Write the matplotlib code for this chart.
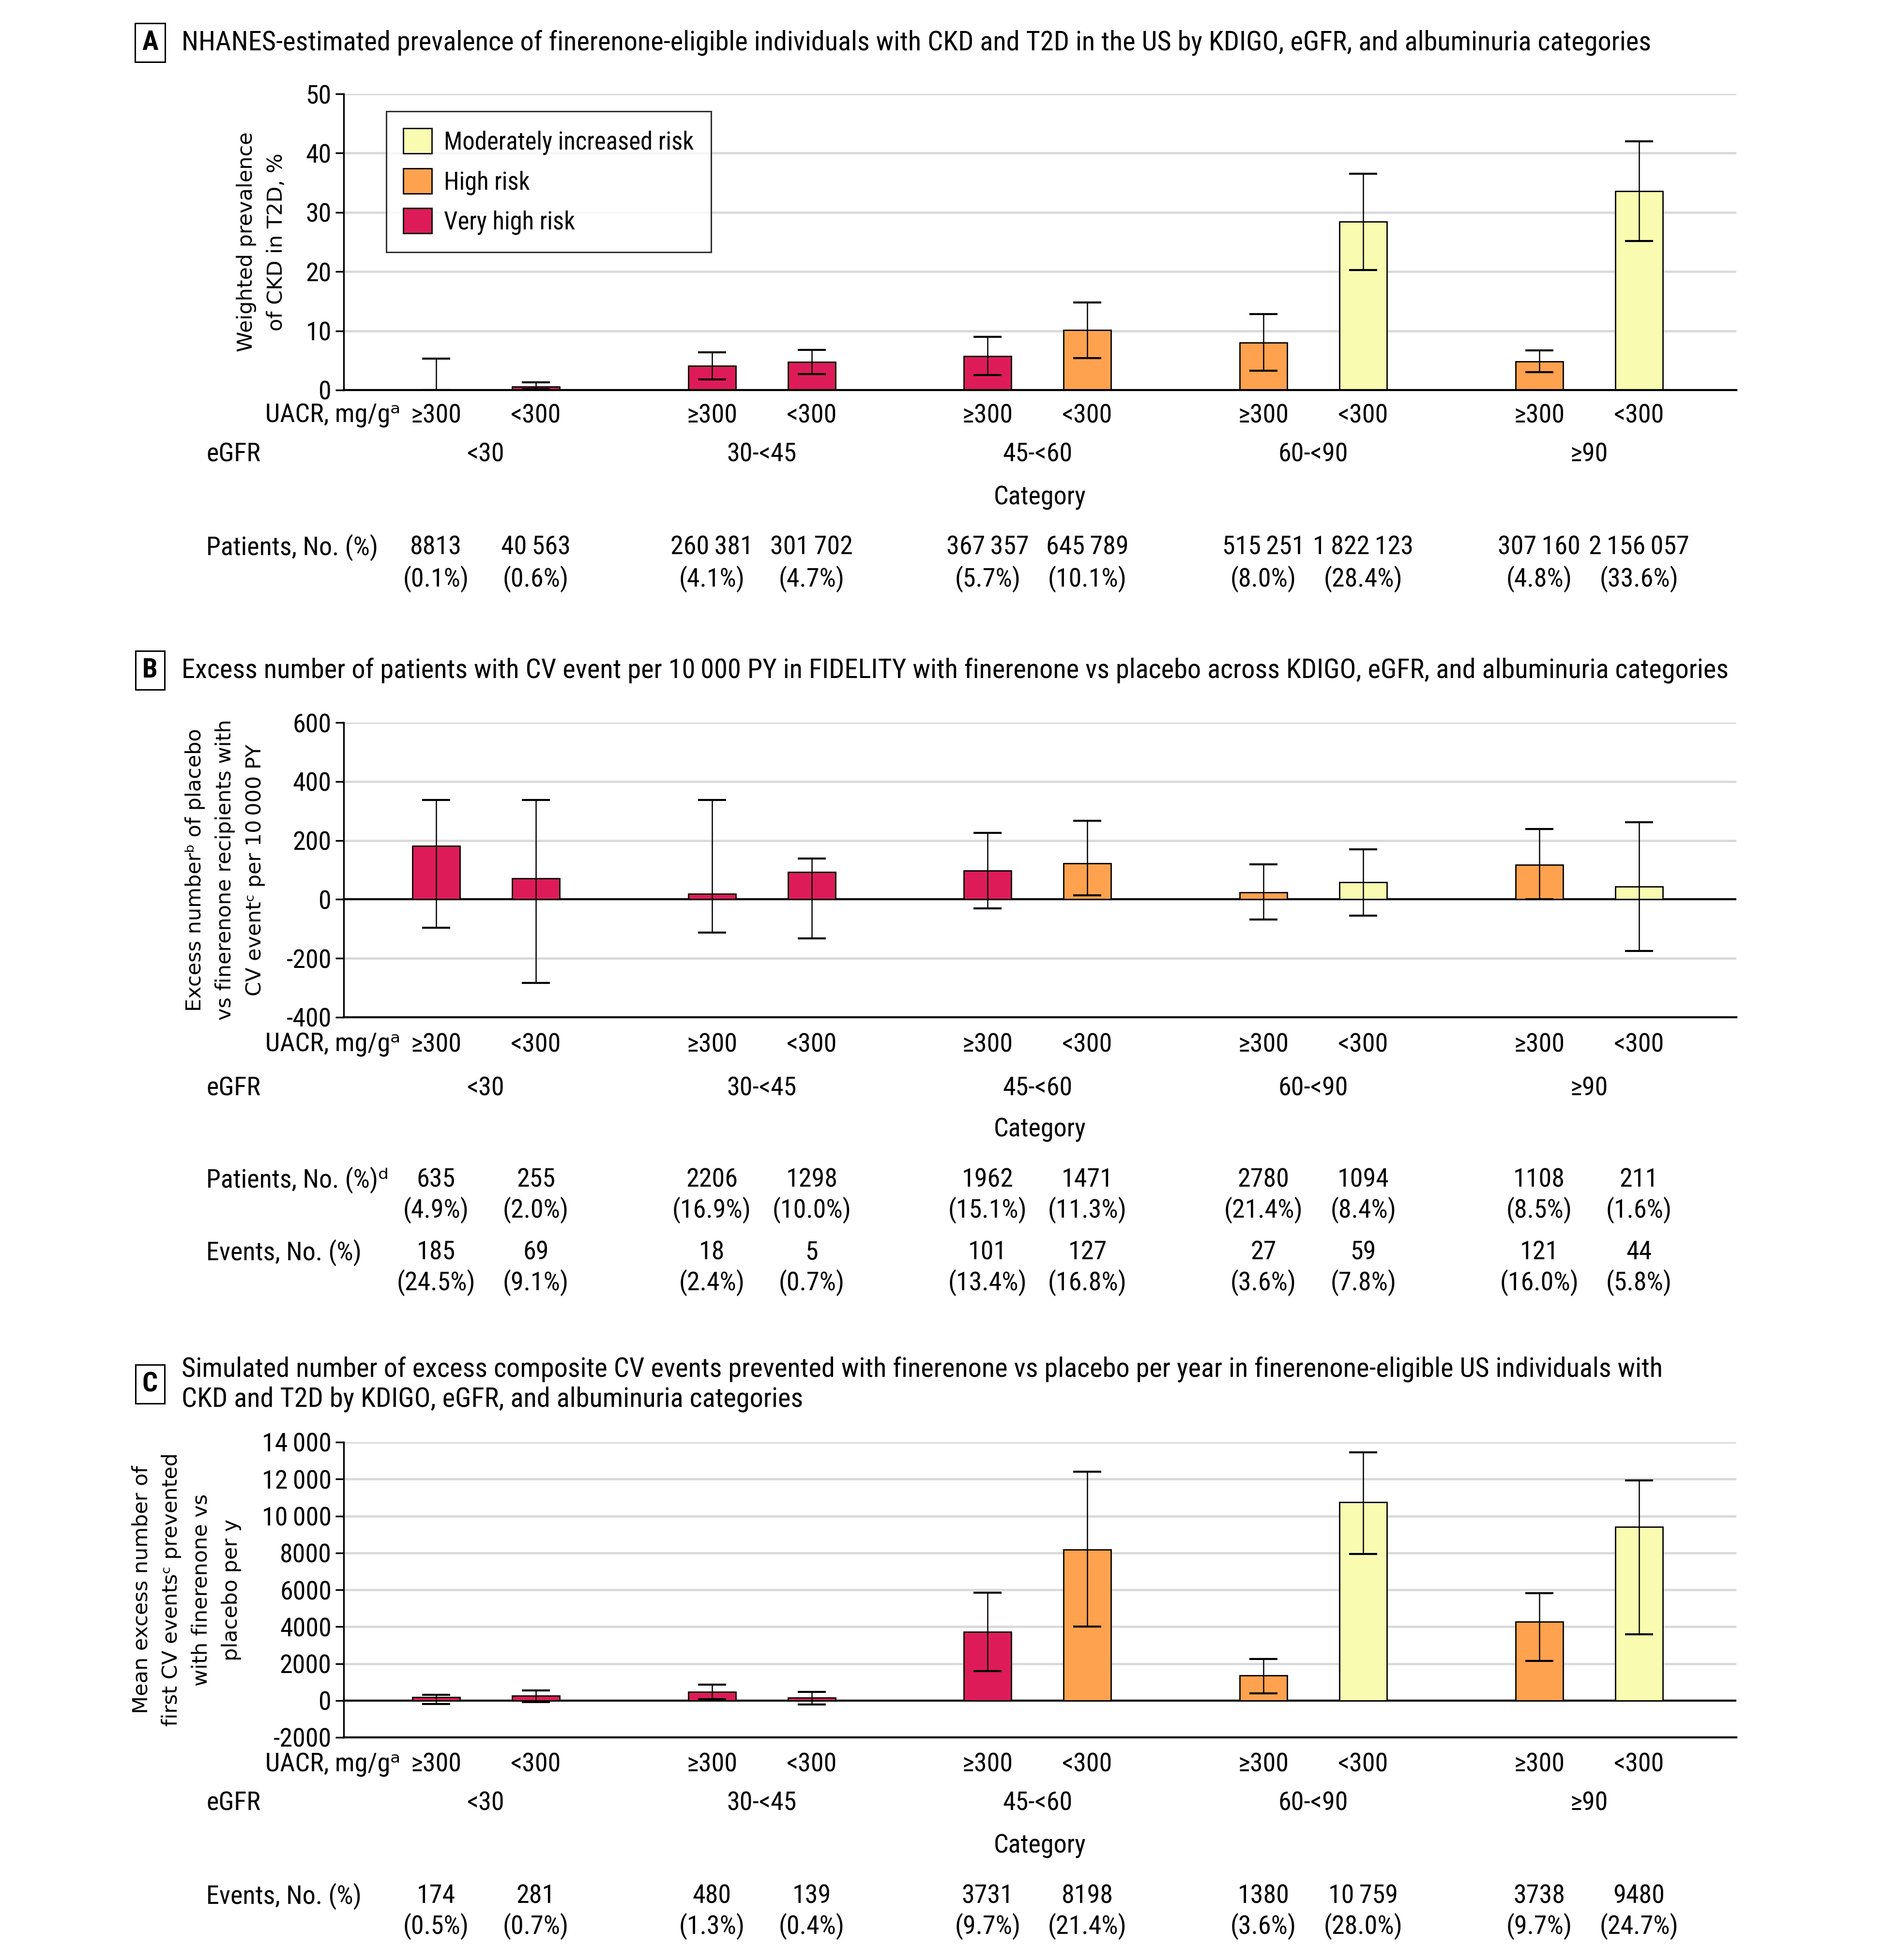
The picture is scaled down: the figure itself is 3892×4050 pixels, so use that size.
import matplotlib
matplotlib.use("Agg")
import matplotlib.pyplot as plt
import matplotlib.transforms as mtransforms
from matplotlib import font_manager
from matplotlib.patches import Patch
import numpy as np

# ---------------- data ----------------
egfr_groups = ["<30", "30-<45", "45-<60", "60-<90", "\u226590"]
uacr_labels = ["\u2265300", "<300"]
risk_names = ["Moderately increased risk", "High risk", "Very high risk"]
bar_risk = ["V", "V", "V", "V", "V", "H", "H", "M", "H", "M"]

a_vals = [0.1, 0.6, 4.1, 4.7, 5.7, 10.1, 8.0, 28.4, 4.8, 33.6]
a_lo = [0.0, 0.2, 1.8, 2.7, 2.5, 5.4, 3.3, 20.3, 3.0, 25.2]
a_hi = [5.3, 1.3, 6.4, 6.8, 9.0, 14.8, 12.8, 36.5, 6.7, 42.0]
a_patients = ["8813", "40\u2009563", "260\u2009381", "301\u2009702", "367\u2009357",
              "645\u2009789", "515\u2009251", "1\u2009822\u2009123", "307\u2009160", "2\u2009156\u2009057"]
a_pct = ["0.1", "0.6", "4.1", "4.7", "5.7", "10.1", "8.0", "28.4", "4.8", "33.6"]

b_vals = [182, 72, 18, 93, 98, 122, 24, 58, 118, 43]
b_lo = [-97, -283, -112, -133, -30, 14, -68, -55, 0, -175]
b_hi = [338, 338, 338, 138, 225, 267, 119, 170, 238, 261]
b_patients = ["635", "255", "2206", "1298", "1962", "1471", "2780", "1094", "1108", "211"]
b_pat_pct = ["4.9", "2.0", "16.9", "10.0", "15.1", "11.3", "21.4", "8.4", "8.5", "1.6"]
b_events = ["185", "69", "18", "5", "101", "127", "27", "59", "121", "44"]
b_ev_pct = ["24.5", "9.1", "2.4", "0.7", "13.4", "16.8", "3.6", "7.8", "16.0", "5.8"]

c_vals = [167, 267, 466, 141, 3725, 8176, 1354, 10742, 4270, 9400]
c_lo = [-183, -83, 70, -217, 1581, 3996, 400, 7937, 2145, 3588]
c_hi = [317, 533, 855, 476, 5836, 12388, 2242, 13450, 5815, 11922]
c_events = ["174", "281", "480", "139", "3731", "8198", "1380", "10\u2009759", "3738", "9480"]
c_ev_pct = ["0.5", "0.7", "1.3", "0.4", "9.7", "21.4", "3.6", "28.0", "9.7", "24.7"]

a_yticks = [0, 10, 20, 30, 40, 50]
b_yticks = [-400, -200, 0, 200, 400, 600]
c_yticks = [-2000, 0, 2000, 4000, 6000, 8000, 10000, 12000, 14000]
c_yticklabels = ["-2000", "0", "2000", "4000", "6000", "8000", "10\u2009000", "12\u2009000", "14\u2009000"]

titles = [
    "NHANES-estimated prevalence of finerenone-eligible individuals with CKD and T2D in the US by KDIGO, eGFR, and albuminuria categories",
    "Excess number of patients with CV event per 10\u2009000 PY in FIDELITY with finerenone vs placebo across KDIGO, eGFR, and albuminuria categories",
    "Simulated number of excess composite CV events prevented with finerenone vs placebo per year in finerenone-eligible US individuals with\nCKD and T2D by KDIGO, eGFR, and albuminuria categories",
]
ylabels = [
    "Weighted prevalence\nof CKD in T2D, %",
    "Excess number\u1d47 of placebo\nvs finerenone recipients with\nCV event\u1d9c per 10\u2009000 PY",
    "Mean excess number of\nfirst CV events\u1d9c prevented\nwith finerenone vs\nplacebo per y",
]

# ---------------- style ----------------
colors = {"M": "#f9fbb1", "H": "#ffa24f", "V": "#de1b59"}
avail = {f.name for f in font_manager.fontManager.ttflist}
narrow = [f for f in ["Liberation Sans Narrow", "Roboto Condensed", "DejaVu Sans Condensed", "Roboto"] if f in avail]
NF = narrow + ["DejaVu Sans"]
WF = ["DejaVu Sans"]

W, H = 3892, 4050
DPI = 100
fig = plt.figure(figsize=(W / DPI, H / DPI), dpi=DPI)

def fx(x):
    return x / W

def fy(y):
    return 1 - y / H

FS = 39
TFS = 40.6
AX_L, AX_R = 710, 3587

# group positions
ng = len(egfr_groups)
gpos = np.arange(ng, dtype=float)
off = 0.181
xpos = np.ravel(np.column_stack([gpos - off, gpos + off]))
bw = 0.172
XL = (-0.516, 4.534)

def make_panel(top, bot, vals, lo, hi, ylim, yticks, yticklabels, ylabel, ylab_x, letter, title, title_y, rows, uacr_y, egfr_y, cat_y):
    ax = fig.add_axes([fx(AX_L), fy(bot), fx(AX_R) - fx(AX_L), (bot - top) / H])
    vals = np.array(vals, float)
    yerr = np.vstack([vals - np.array(lo, float), np.array(hi, float) - vals])
    ax.set_xlim(*XL)
    ax.set_ylim(*ylim)
    ax.set_yticks(yticks)
    ax.set_yticklabels(yticklabels, fontfamily=NF, fontsize=FS)
    ax.yaxis.grid(True, color="#d9d9d9", linewidth=3.4, zorder=0)
    ax.set_axisbelow(True)
    for s in ["top", "right"]:
        ax.spines[s].set_visible(False)
    ax.spines["left"].set_linewidth(2.5)
    ax.spines["bottom"].set_linewidth(3)
    ax.tick_params(axis="y", length=12, width=2.5, pad=6)
    ax.tick_params(axis="x", length=0)
    ax.set_xticks(xpos)
    ax.set_xticklabels([])
    ax.axhline(0, color="black", linewidth=3, zorder=1.5)
    bar_colors = [colors[r] for r in bar_risk]
    ax.bar(xpos, vals, width=bw, color=bar_colors, edgecolor="black", linewidth=2, zorder=2)
    ax.errorbar(xpos, vals, yerr=yerr, fmt="none", ecolor="black", elinewidth=1.8,
                capsize=21, capthick=3, zorder=3)
    # y label
    fig.text(fx(ylab_x), (fy(top) + fy(bot)) / 2, ylabel, rotation=90, ha="center", va="center",
             fontfamily=WF, fontsize=31, linespacing=1.6)
    # panel letter + title
    fig.text(fx(310), fy(title_y), letter, ha="center", va="center", fontfamily=NF, fontsize=TFS,
             fontweight="bold", bbox=dict(boxstyle="square,pad=0.25", fc="white", ec="black", lw=2.2))
    fig.text(fx(375), fy(title_y), title, ha="left", va="center", fontfamily=NF, fontsize=TFS,
             linespacing=1.2)
    trans = mtransforms.blended_transform_factory(ax.transData, fig.transFigure)
    # UACR row
    fig.text(fx(548), fy(uacr_y), "UACR, mg/g\u1d43", ha="left", va="center", fontfamily=NF, fontsize=FS)
    for i, x in enumerate(xpos):
        ax.text(x, fy(uacr_y), uacr_labels[i % 2], transform=trans, ha="center", va="center",
                fontfamily=NF, fontsize=FS)
    # eGFR row
    fig.text(fx(426), fy(egfr_y), "eGFR", ha="left", va="center", fontfamily=NF, fontsize=FS)
    for g, lab in zip(gpos, egfr_groups):
        ax.text(g, fy(egfr_y), lab, transform=trans, ha="center", va="center", fontfamily=NF, fontsize=FS)
    ax.text(np.mean(XL), fy(cat_y), "Category", transform=trans, ha="center", va="center",
            fontfamily=NF, fontsize=FS)
    for (label, y1, y2, nums, pcts) in rows:
        fig.text(fx(426), fy(y1), label, ha="left", va="center", fontfamily=NF, fontsize=FS)
        for x, n, p in zip(xpos, nums, pcts):
            ax.text(x, fy(y1), n, transform=trans, ha="center", va="center", fontfamily=NF, fontsize=FS)
            ax.text(x, fy(y2), "(" + p + "%)", transform=trans, ha="center", va="center",
                    fontfamily=NF, fontsize=FS)
    return ax

axA = make_panel(194, 806, a_vals, a_lo, a_hi, (0, 50), a_yticks, [str(t) for t in a_yticks],
                 ylabels[0], 540, "A", titles[0], 88,
                 [("Patients, No. (%)", 1131, 1196, a_patients, a_pct)], 859, 939, 1028)

# legend for panel A
handles = [Patch(facecolor=colors[k], edgecolor="black", linewidth=2) for k in ["M", "H", "V"]]
leg = axA.legend(handles, risk_names, loc="upper left",
                 bbox_to_anchor=((798 - AX_L) / (AX_R - AX_L), (806 - 230) / (806 - 194)),
                 prop=font_manager.FontProperties(family=NF, size=36.5), frameon=True, fancybox=False,
                 edgecolor="black", handlelength=1.15, handleheight=1.2, borderpad=0.7, labelspacing=0.55,
                 handletextpad=0.5, borderaxespad=0)
leg.get_frame().set_linewidth(2.2)

make_panel(1493, 2102, b_vals, b_lo, b_hi, (-400, 600), b_yticks, [str(t) for t in b_yticks],
           ylabels[1], 465, "B", titles[1], 1385,
           [("Patients, No. (%)\u1d48", 2438, 2500, b_patients, b_pat_pct),
            ("Events, No. (%)", 2588, 2650, b_events, b_ev_pct)], 2159, 2249, 2335)

make_panel(2980, 3590, c_vals, c_lo, c_hi, (-2000, 14000), c_yticks, c_yticklabels,
           ylabels[2], 385, "C", titles[2], 2860,
           [("Events, No. (%)", 3918, 3980, c_events, c_ev_pct)], 3646, 3726, 3815)

fig.savefig("out.png", dpi=DPI)
